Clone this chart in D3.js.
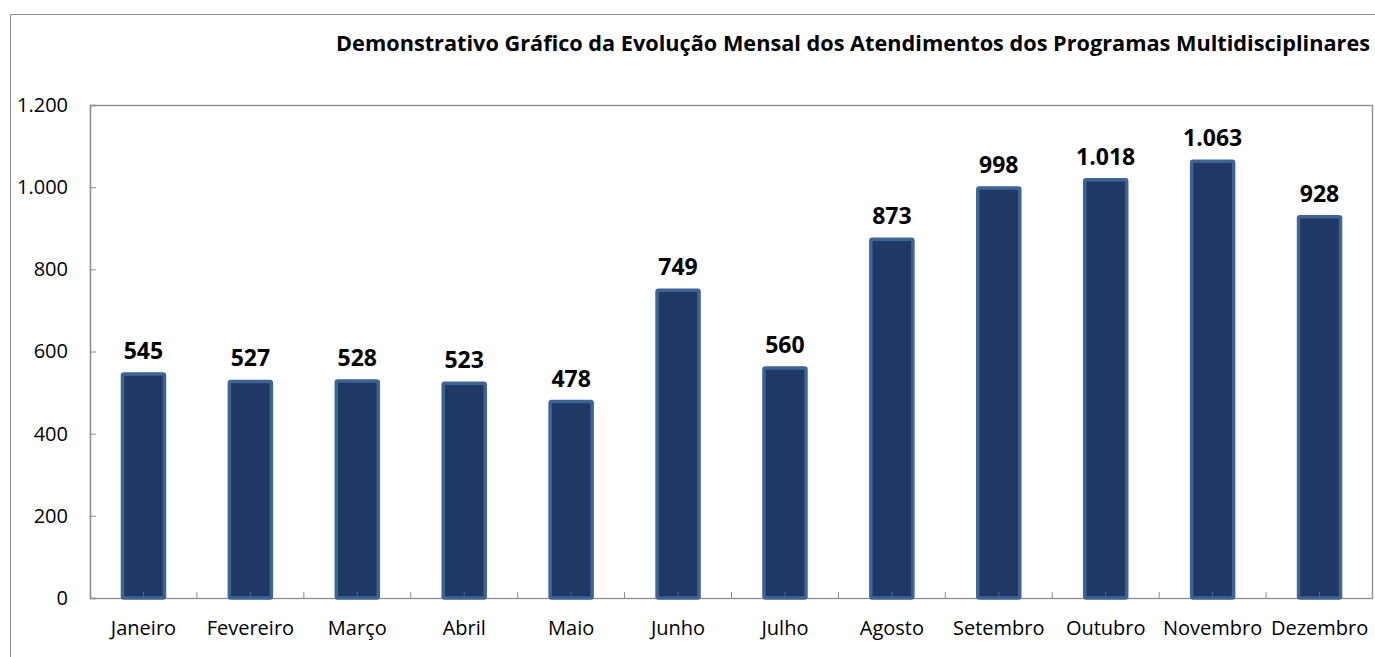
<!DOCTYPE html>
<html><head><meta charset="utf-8">
<script src="https://cdn.jsdelivr.net/npm/d3@7"></script>
<style>body{margin:0;background:#fff;}svg{display:block;}</style>
</head><body>
<svg id="c" width="1375" height="657"></svg>
<script>
const categories = ["Janeiro","Fevereiro","Março","Abril","Maio","Junho","Julho","Agosto","Setembro","Outubro","Novembro","Dezembro"];
const values = [545,527,528,523,478,749,560,873,998,1018,1063,928];
const yTicks = [0,200,400,600,800,1000,1200];
const title = "Demonstrativo Gráfico da Evolução Mensal dos Atendimentos dos Programas Multidisciplinares";

const fmt = v => d3.format(",")(v).replace(/,/g, ".");
const svg = d3.select("#c");
const font = "Open Sans, Liberation Sans, sans-serif";

// outer frame
svg.append("path").attr("d","M10.5,660 L10.5,14.5 L1380,14.5").attr("fill","none").attr("stroke","#8c8c8c").attr("stroke-width",1);

const pL = 90, pR = 1373, pT = 105, pB = 598;
const xb = d3.scaleBand().domain(categories).range([pL, pR]);
const y = d3.scaleLinear().domain([0,1200]).range([pB, pT]);

// plot area border
svg.append("rect").attr("x",pL+0.5).attr("y",pT+0.5).attr("width",pR-pL-1).attr("height",pB-pT)
  .attr("fill","none").attr("stroke","#8c8c8c").attr("stroke-width",1.3);

// bars
svg.append("g").selectAll("rect").data(values).join("rect")
  .attr("x",(d,i)=>xb(categories[i]) + xb.bandwidth()/2 - 21)
  .attr("y",d=>y(d))
  .attr("width",42)
  .attr("height",d=>pB - y(d))
  .attr("rx",1.5)
  .attr("fill","#203864").attr("stroke","#3c6496").attr("stroke-width",3.5);

// y axis
const ya = d3.axisLeft(y).tickValues(yTicks).tickFormat(fmt).tickSize(-6).tickPadding(22);
const gy = svg.append("g").attr("transform",`translate(${pL},0)`).call(ya);
gy.select(".domain").attr("stroke","#8c8c8c").attr("stroke-width",1.3);
gy.selectAll(".tick line").attr("stroke","#8c8c8c");
gy.selectAll(".tick text").attr("font-family",font).attr("font-size",20).attr("fill","#000");

// x axis
const xa = d3.axisBottom(xb).tickSize(0).tickPadding(23);
const gx = svg.append("g").attr("transform",`translate(0,${pB})`).call(xa);
gx.select(".domain").remove();
gx.selectAll(".tick text").attr("font-family",font).attr("font-size",20).attr("fill","#000")
  .each(function(){ const n=this; const L=n.getComputedTextLength(); if (L>104) d3.select(n).attr("textLength",104).attr("lengthAdjust","spacingAndGlyphs"); });
// category separator ticks
svg.append("g").selectAll("line").data(categories.slice(1)).join("line")
  .attr("x1",d=>xb(d)).attr("x2",d=>xb(d)).attr("y1",pB).attr("y2",pB-6)
  .attr("stroke","#8c8c8c");
svg.append("g").selectAll("line").data(categories).join("line")
  .attr("x1",d=>xb(d)+xb.bandwidth()/2).attr("x2",d=>xb(d)+xb.bandwidth()/2).attr("y1",pB).attr("y2",pB-6)
  .attr("stroke","#4a6a96");

// data labels
svg.append("g").selectAll("text").data(values).join("text")
  .attr("x",(d,i)=>xb(categories[i]) + xb.bandwidth()/2)
  .attr("y",d=>y(d)-15)
  .attr("text-anchor","middle")
  .attr("font-family",font).attr("font-weight","bold").attr("font-size",23).attr("fill","#000")
  .text(fmt);

// title
const t = svg.append("text").attr("x",1370).attr("y",51).attr("text-anchor","end")
  .attr("font-family",font).attr("font-weight","bold").attr("font-size",17).attr("fill","#000").text(title);
const w = t.node().getComputedTextLength();
if (w > 0) t.attr("font-size", 17 * 1035 / w);
</script>
</body></html>
